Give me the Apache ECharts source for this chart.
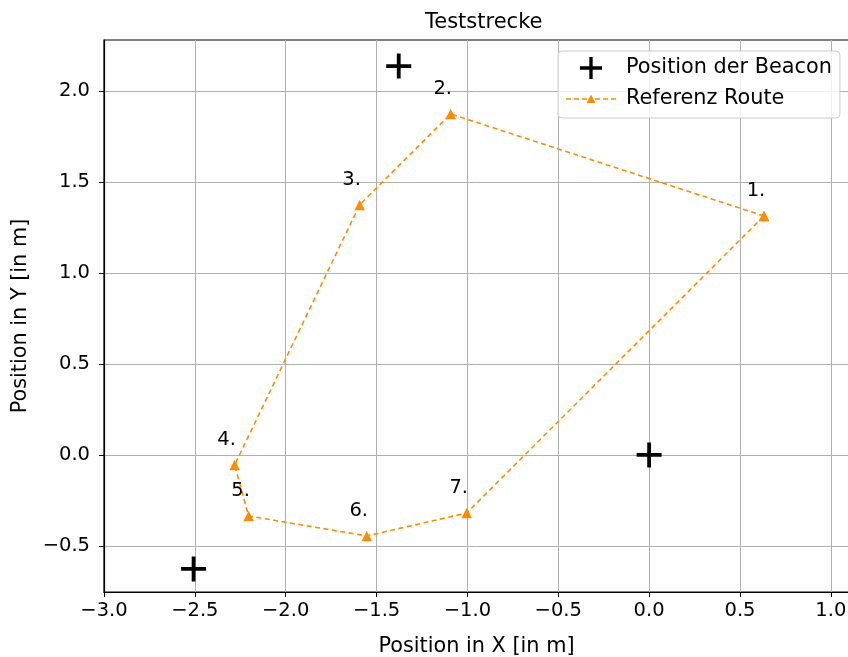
<!DOCTYPE html>
<html><head><meta charset="utf-8">
<script src="https://cdn.jsdelivr.net/npm/echarts@6/dist/echarts.min.js"></script>
<style>html,body{margin:0;padding:0;background:#fff}#c{width:848px;height:657px}</style>
</head><body><div id="c"></div>
<script>
const routeLabels = ['1.', '2.', '3.', '4.', '5.', '6.', '7.', ''];
const routeX = [0.632, -1.092, -1.593, -2.281, -2.204, -1.554, -1.004, 0.632];
const routeY = [1.313, 1.874, 1.374, -0.055, -0.335, -0.445, -0.319, 1.313];
const beaconX = [-1.378, 0.0, -2.507];
const beaconY = [2.137, 0.0, -0.626];
const xTicks = [-3.0, -2.5, -2.0, -1.5, -1.0, -0.5, 0.0, 0.5, 1.0];
const yTicks = [-0.5, 0.0, 0.5, 1.0, 1.5, 2.0];

const FONT = 'DejaVu Sans';
const fmt = v => (v < 0 ? '\u2212' : '') + Math.abs(v).toFixed(1);
const plus = 'path://M10.6,0h3.8v10.6h10.6v3.8h-10.6v10.6h-3.8v-10.6h-10.6v-3.8h10.6z';
// legend icon for the route: dashes + small triangle, 50x22 frame (corner points keep the frame)
const routeIcon = 'path://M0,0Z M50,22Z ' +
  'M0,10.2h5v1.6h-5z M8,10.2h5v1.6h-5z M16,10.2h5v1.6h-5z ' +
  'M29,10.2h5v1.6h-5z M37,10.2h5v1.6h-5z M45,10.2h5v1.6h-5z ' +
  'M25,6.5L29.5,15L20.5,15z';

const chart = echarts.init(document.getElementById('c'), null, {renderer: 'canvas'});
chart.setOption({
  animation: false,
  backgroundColor: '#fff',
  textStyle: {fontFamily: FONT},
  title: {text: 'Teststrecke', left: 420, top: 7,
    textStyle: {fontFamily: FONT, fontWeight: 'normal', fontSize: 21, color: '#000'}},
  grid: {left: 104, right: -1, top: 40, bottom: 65, outerBoundsMode: 'none', containLabel: false,
    show: true, borderColor: '#000', borderWidth: 1.2, backgroundColor: 'transparent'},
  legend: {
    left: 558, top: 51, orient: 'vertical', itemGap: 9,
    itemWidth: 50, itemHeight: 22, symbolKeepAspect: true,
    backgroundColor: 'rgba(255,255,255,0.8)', borderColor: '#cccccc', borderWidth: 1, borderRadius: 4,
    padding: [6, 8, 8, 8],
    textStyle: {fontFamily: FONT, fontSize: 20.8, color: '#000', padding: [0, 0, 0, 5]},
    data: [
      {name: 'Position der Beacon', icon: plus, itemStyle: {color: '#000', opacity: 1, borderWidth: 0}},
      {name: 'Referenz Route', icon: routeIcon, itemStyle: {color: '#ff8c00', opacity: 1, borderWidth: 0}}
    ]
  },
  xAxis: {
    type: 'value', min: -3.0, max: 1.1, interval: 0.5,
    name: 'Position in X [in m]', nameLocation: 'middle', nameGap: 44.5,
    nameTextStyle: {fontFamily: FONT, fontSize: 20.8, color: '#000'},
    axisLine: {show: true, onZero: false, lineStyle: {color: '#000', width: 1.2}},
    axisTick: {show: true, length: 5, customValues: xTicks, lineStyle: {color: '#000', width: 1}},
    axisLabel: {customValues: xTicks, formatter: fmt, fontFamily: FONT, fontSize: 19.5, color: '#000', margin: 9},
    splitLine: {show: true, lineStyle: {color: '#b0b0b0', width: 1}}
  },
  yAxis: {
    type: 'value', min: -0.753, max: 2.28,
    name: 'Position in Y [in m]', nameLocation: 'middle', nameGap: 73, nameRotate: 90,
    nameTextStyle: {fontFamily: FONT, fontSize: 20.8, color: '#000'},
    axisLine: {show: true, onZero: false, lineStyle: {color: '#000', width: 1.2}},
    axisTick: {show: true, length: 5, customValues: yTicks, lineStyle: {color: '#000', width: 1}},
    axisLabel: {customValues: yTicks, formatter: fmt, fontFamily: FONT, fontSize: 19.5, color: '#000', margin: 14},
    splitLine: {show: true, lineStyle: {color: '#b0b0b0', width: 1}}
  },
  series: [
    {
      name: 'Position der Beacon', type: 'scatter', symbol: plus, symbolSize: 25,
      itemStyle: {color: '#000', opacity: 1}, z: 5,
      data: beaconX.map((x, i) => [x, beaconY[i]])
    },
    {
      name: 'Referenz Route', type: 'line', symbol: 'triangle', symbolSize: 10.5, showAllSymbol: true,
      itemStyle: {color: '#ff8c00', opacity: 1},
      lineStyle: {color: '#ff8c00', width: 1.6, type: [5, 3.5]},
      label: {show: true, position: 'top', distance: 5, offset: [-8, -5], formatter: p => routeLabels[p.dataIndex],
        fontFamily: FONT, fontSize: 19.5, color: '#000'},
      data: routeX.map((x, i) => [x, routeY[i]]), z: 4
    }
  ]
});
</script></body></html>
